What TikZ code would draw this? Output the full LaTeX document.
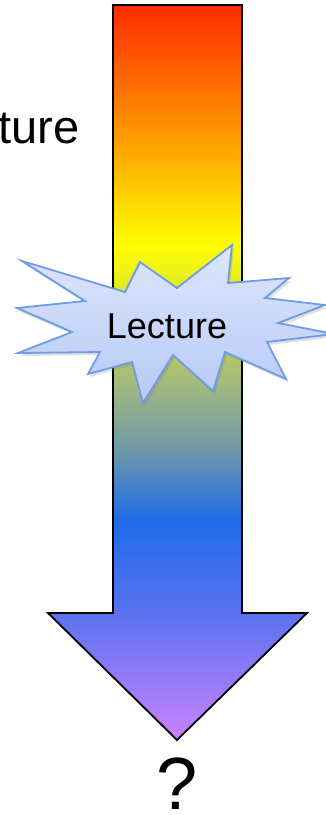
\documentclass[tikz,border=0pt]{standalone}
\usepackage{fontspec}
\setmainfont{Liberation Sans}
\usetikzlibrary{shadows}
\definecolor{g0}{HTML}{FF2A00}
\definecolor{g1}{HTML}{FF8C00}
\definecolor{g2}{HTML}{FFFF00}
\definecolor{g3}{HTML}{A0B880}
\definecolor{g4}{HTML}{6E98A8}
\definecolor{g5}{HTML}{1E6BE8}
\definecolor{g6}{HTML}{5A72F0}
\definecolor{g7}{HTML}{CC82FF}
\definecolor{burstline}{HTML}{6E9BEA}
\definecolor{bursttop}{HTML}{DDE6FC}
\definecolor{burstbot}{HTML}{B6C9F7}
\tikzset{
  band/.style 2 args={top color=#1,bottom color=#2,draw=none},
  outline/.style={draw=black,line width=1.8pt,line join=miter},
  burst/.style={draw=burstline,line width=1.8pt,line join=miter,top color=bursttop,bottom color=burstbot,
    drop shadow={opacity=0.25,shadow xshift=2pt,shadow yshift=-3pt}},
  bigtext/.style={font=\fontsize{47}{56}\selectfont,inner sep=0pt,text depth=0pt},
}
\begin{document}
\begin{tikzpicture}[x=1pt,y=-1pt]
\useasboundingbox (0,0) rectangle (326,815);
\clip (0,0) rectangle (326,815);
\def\arrowpath{(113,5) -- (242,5) -- (242,613) -- (307,613) -- (177,740) -- (48,613) -- (113,613) -- cycle}
\begin{scope}
  \clip \arrowpath;
  \shade[band={g0}{g1}] (40,4) rectangle (310,121);
  \shade[band={g1}{g2}] (40,120) rectangle (310,246);
  \shade[band={g2}{g3}] (40,245) rectangle (310,386);
  \shade[band={g3}{g4}] (40,385) rectangle (310,451);
  \shade[band={g4}{g5}] (40,450) rectangle (310,521);
  \shade[band={g5}{g6}] (40,520) rectangle (310,614);
  \shade[band={g6}{g7}] (40,613) rectangle (310,742);
\end{scope}
\draw[outline] \arrowpath;
\node[bigtext,anchor=base east] (toplabel) at (80,143) {Lecture};
\path[burst] (22,261) -- (125,292) -- (140,262) -- (177,288) -- (232,245) -- (228,283)
  -- (289,278) -- (265,298) -- (325,305) -- (278,323) -- (334,334) -- (267,342)
  -- (286,379) -- (225,352) -- (213,391) -- (173,355) -- (143,403) -- (132,362)
  -- (88,374) -- (100,352) -- (18,353) -- (72,332) -- (17,308) -- (85,301) -- cycle;
\node[font=\fontsize{36}{43}\selectfont,inner sep=0pt,anchor=base] (burstlabel) at (167,338) {Lecture};
\node[font=\fontsize{74}{88}\selectfont,inner sep=0pt,text depth=0pt,anchor=base] (question) at (177,809) {?};
\end{tikzpicture}
\end{document}
